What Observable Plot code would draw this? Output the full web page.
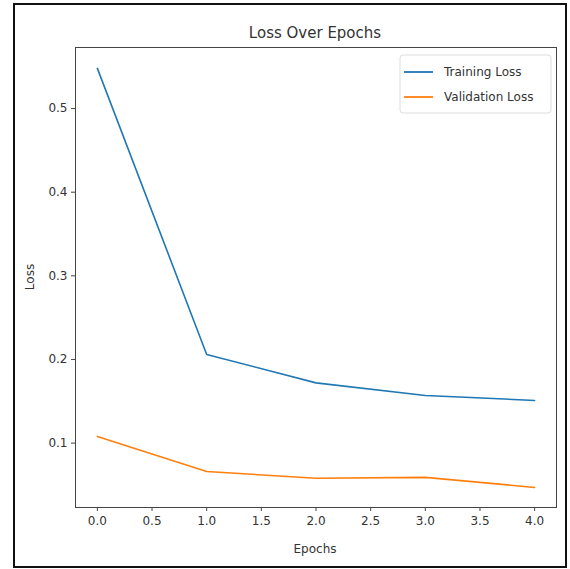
<!DOCTYPE html>
<html><head><meta charset="utf-8">
<script src="https://cdn.jsdelivr.net/npm/d3@7"></script>
<script src="https://cdn.jsdelivr.net/npm/@observablehq/plot@0.6"></script>
<style>body{margin:0;background:#fff}</style>
</head><body><div id="chart"></div>
<script>
const epochs = [0, 1, 2, 3, 4];
const trainingLoss = [0.548, 0.206, 0.172, 0.157, 0.151];
const validationLoss = [0.108, 0.066, 0.058, 0.059, 0.047];
const seriesNames = ["Training Loss", "Validation Loss"];
const seriesColors = ["#1f77b4", "#ff7f0e"];
const xTicks = [0, 0.5, 1, 1.5, 2, 2.5, 3, 3.5, 4];
const yTicks = [0.1, 0.2, 0.3, 0.4, 0.5];
const titleText = "Loss Over Epochs";
const xLabel = "Epochs";
const yLabel = "Loss";

const rows = [
  ...epochs.map((e, i) => ({epoch: e, loss: trainingLoss[i], series: seriesNames[0]})),
  ...epochs.map((e, i) => ({epoch: e, loss: validationLoss[i], series: seriesNames[1]}))
];
const fmt = d3.format(".1f");
const font = "DejaVu Sans";

const chart = Plot.plot({
  width: 570, height: 569,
  marginLeft: 75, marginRight: 14, marginTop: 47, marginBottom: 62,
  style: {fontFamily: font, fontSize: "12px", color: "#333", background: "#fff"},
  x: {domain: [-0.2, 4.2], label: null},
  y: {domain: [0.023, 0.573], label: null},
  color: {domain: seriesNames, range: seriesColors},
  marks: [
    Plot.axisX({ticks: xTicks, tickFormat: fmt, tickSize: 4, tickPadding: 5, label: null, stroke: "#444", fill: "#333"}),
    Plot.axisY({ticks: yTicks, tickFormat: fmt, tickSize: 4, tickPadding: 4, label: null, stroke: "#444", fill: "#333"}),
    Plot.line(rows, {x: "epoch", y: "loss", z: "series", stroke: "series", strokeWidth: 1.6}),
    Plot.frame({stroke: "#444", strokeWidth: 1})
  ]
});
document.getElementById("chart").appendChild(chart);

const svg = d3.select(chart);
svg.append("rect").attr("x", 14).attr("y", 4).attr("width", 552).attr("height", 563)
  .attr("fill", "none").attr("stroke", "#111").attr("stroke-width", 2);
svg.append("text").attr("x", 315).attr("y", 38).attr("text-anchor", "middle")
  .attr("font-family", font).attr("font-size", 15).attr("fill", "#333").text(titleText);
svg.append("text").attr("x", 315).attr("y", 553).attr("text-anchor", "middle")
  .attr("font-family", font).attr("font-size", 12).attr("fill", "#333").text(xLabel);
svg.append("text").attr("transform", "translate(34,277) rotate(-90)").attr("text-anchor", "middle")
  .attr("font-family", font).attr("font-size", 12).attr("fill", "#333").text(yLabel);

const lg = svg.append("g");
lg.append("rect").attr("x", 400).attr("y", 55).attr("width", 151).attr("height", 58).attr("rx", 3)
  .attr("fill", "#fff").attr("stroke", "#ddd");
seriesNames.forEach((n, i) => {
  const y = 72 + i * 25;
  lg.append("line").attr("x1", 404).attr("x2", 433).attr("y1", y).attr("y2", y)
    .attr("stroke", seriesColors[i]).attr("stroke-width", 1.8);
  lg.append("text").attr("x", 444).attr("y", y + 4).attr("text-anchor", "start")
    .attr("font-family", font).attr("font-size", 12).attr("fill", "#333").text(n);
});
</script></body></html>
